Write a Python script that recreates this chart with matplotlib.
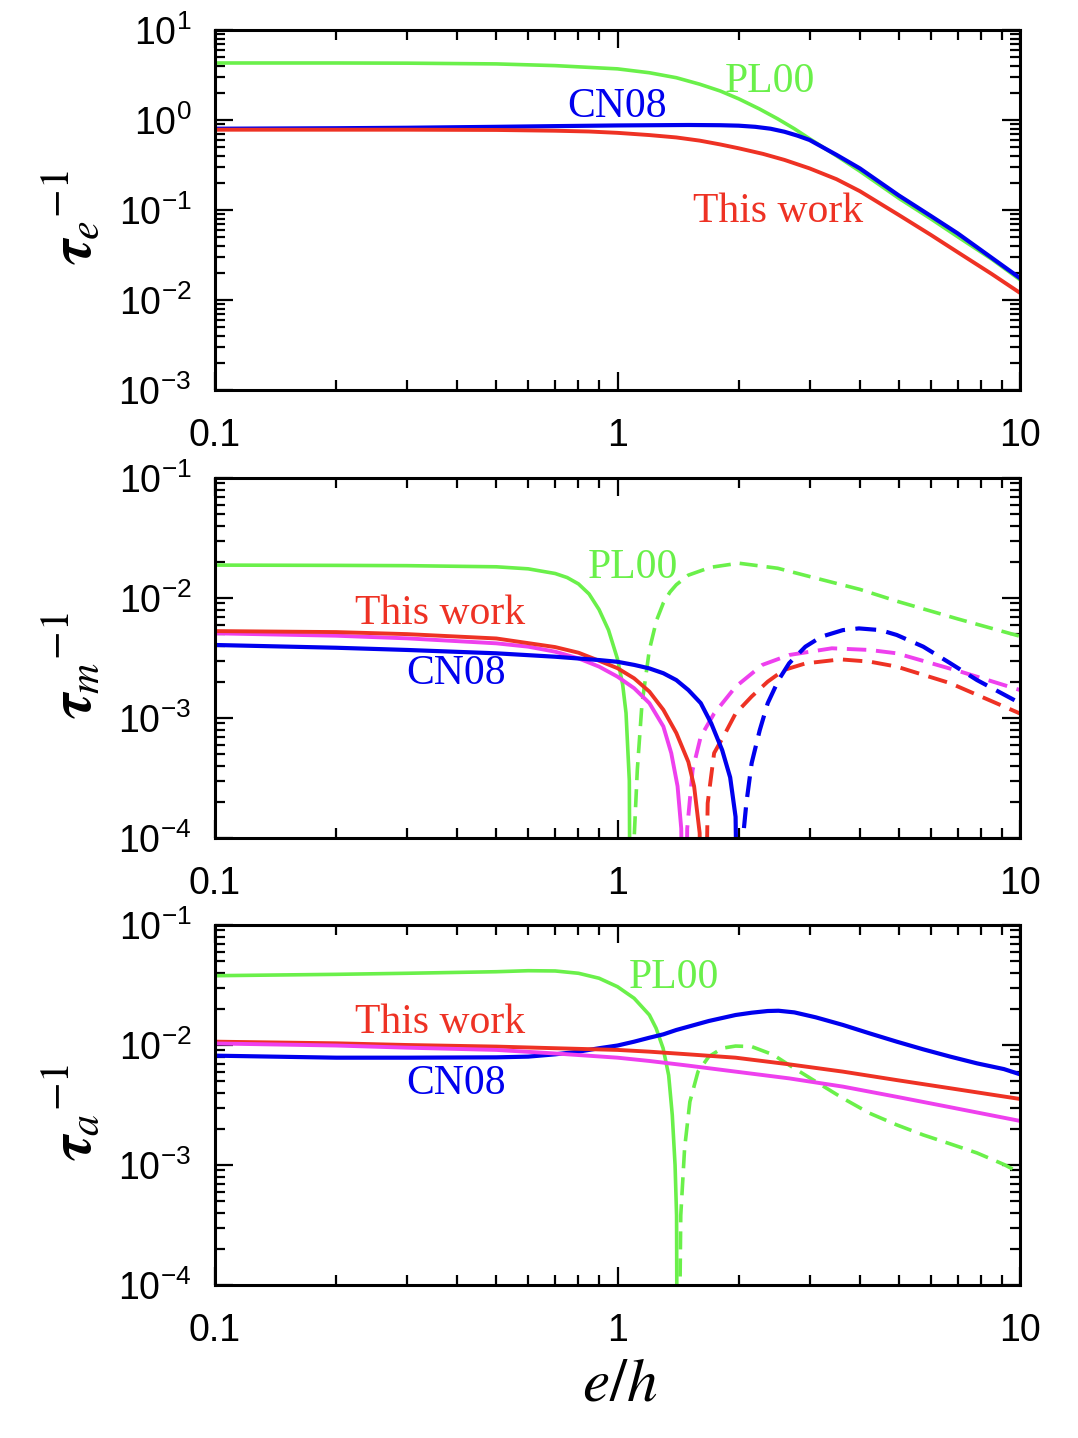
import numpy as np
import matplotlib
matplotlib.use("Agg")
import matplotlib.pyplot as plt
from matplotlib.ticker import LogLocator, FuncFormatter, NullFormatter

plt.rcParams['font.family'] = ['Liberation Sans', 'DejaVu Sans']
plt.rcParams['mathtext.fontset'] = 'custom'
plt.rcParams['mathtext.rm'] = 'Liberation Sans'
plt.rcParams['mathtext.it'] = 'Liberation Sans:italic'
plt.rcParams['mathtext.bf'] = 'Liberation Sans:bold'

# ---------------- data ----------------
# panel 1: tau_e^-1
e_pl_x = [0.1, 0.2, 0.3, 0.5, 0.7, 1.0, 1.2, 1.4, 1.6, 1.8, 2.0, 2.25, 2.5, 2.75, 3.0, 3.5, 4.0, 5.0, 6.0, 7.0, 8.5, 10.0]
e_pl_y = [4.3, 4.3, 4.28, 4.2, 4.02, 3.7, 3.35, 2.95, 2.5, 2.1, 1.72, 1.33, 1.03, 0.8, 0.62, 0.40, 0.27, 0.135, 0.080, 0.0505, 0.0285, 0.0168]
e_cn_x = [0.1, 0.2, 0.3, 0.5, 0.7, 1.0, 1.5, 1.8, 2.0, 2.2, 2.4, 2.6, 2.8, 3.0, 3.5, 4.0, 5.0, 6.0, 7.0, 8.5, 10.0]
e_cn_y = [0.80, 0.81, 0.82, 0.84, 0.855, 0.87, 0.88, 0.875, 0.865, 0.84, 0.80, 0.74, 0.67, 0.60, 0.41, 0.29, 0.145, 0.086, 0.055, 0.0295, 0.0175]
e_tw_x = [0.1, 0.3, 0.5, 0.7, 0.85, 1.0, 1.2, 1.4, 1.6, 1.8, 2.0, 2.3, 2.6, 3.0, 3.5, 4.0, 5.0, 6.0, 7.0, 8.5, 10.0]
e_tw_y = [0.78, 0.78, 0.775, 0.76, 0.745, 0.72, 0.68, 0.64, 0.59, 0.535, 0.485, 0.42, 0.36, 0.29, 0.22, 0.162, 0.088, 0.053, 0.034, 0.0195, 0.012]

# panel 2: tau_m^-1 (solid: positive, dashed: negative part, |value|)
m_pl_x = [0.1, 0.2, 0.3, 0.5, 0.6, 0.7, 0.75, 0.8, 0.85, 0.9, 0.95, 1.0, 1.03, 1.05, 1.07, 1.078]
m_pl_y = [0.0188, 0.0187, 0.0186, 0.0182, 0.0175, 0.0160, 0.0148, 0.0131, 0.0108, 0.0080, 0.0054, 0.0031, 0.0019, 0.0011, 0.0003, 1e-6]
m_pl_neg_x = [1.078, 1.10, 1.12, 1.15, 1.2, 1.25, 1.3, 1.35, 1.4, 1.5, 1.7, 2.0, 2.5, 3.0, 4.0, 5.0, 7.0, 10.0]
m_pl_neg_y = [1e-6, 0.0001, 0.00037, 0.0013, 0.0037, 0.0065, 0.0091, 0.0112, 0.0129, 0.0155, 0.018, 0.0195, 0.0177, 0.0151, 0.0118, 0.0093, 0.0067, 0.0048]
m_tw_x = [0.1, 0.2, 0.3, 0.5, 0.7, 0.8, 0.9, 1.0, 1.1, 1.2, 1.3, 1.4, 1.5, 1.55, 1.6, 1.635]
m_tw_y = [0.0053, 0.0052, 0.0050, 0.0046, 0.0039, 0.0035, 0.0030, 0.0026, 0.00214, 0.00166, 0.00117, 0.00075, 0.00043, 0.00027, 0.00011, 1e-6]
m_tw_neg_x = [1.635, 1.675, 1.738, 1.849, 1.965, 2.154, 2.362, 2.59, 2.93, 3.58, 4.23, 4.94, 6.71, 10.0]
m_tw_neg_y = [1e-6, 0.000195, 0.00051, 0.00074, 0.00109, 0.00151, 0.00201, 0.00251, 0.00285, 0.00308, 0.00295, 0.00268, 0.00195, 0.00109]
m_mg_x = [0.1, 0.2, 0.3, 0.5, 0.6, 0.7, 0.8, 0.9, 1.0, 1.1, 1.2, 1.3, 1.36, 1.41, 1.44, 1.465]
m_mg_y = [0.00508, 0.00485, 0.00461, 0.00419, 0.00393, 0.00357, 0.00314, 0.00268, 0.00221, 0.00177, 0.00133, 0.00085, 0.00051, 0.00027, 0.00012, 1e-6]
m_mg_neg_x = [1.465, 1.49, 1.537, 1.61, 1.738, 1.965, 2.29, 2.67, 3.41, 4.23, 4.94, 7.13, 10.0]
m_mg_neg_y = [1e-6, 0.00012, 0.00037, 0.0007, 0.00109, 0.00182, 0.00277, 0.00335, 0.00381, 0.00369, 0.00346, 0.00243, 0.00171]
m_cn_x = [0.1, 0.2, 0.3, 0.5, 0.7, 0.9, 1.0, 1.1, 1.2, 1.3, 1.4, 1.5, 1.61, 1.71, 1.82, 1.905, 1.965, 2.01]
m_cn_y = [0.00406, 0.00385, 0.00369, 0.00346, 0.00324, 0.00304, 0.00294, 0.00277, 0.00259, 0.00236, 0.00207, 0.00171, 0.00133, 0.0009, 0.00054, 0.00032, 0.00015, 1e-6]
m_cn_neg_x = [2.01, 2.05, 2.09, 2.154, 2.256, 2.362, 2.512, 2.67, 2.93, 3.21, 3.63, 3.98, 4.5, 4.94, 5.75, 6.71, 7.82, 10.0]
m_cn_neg_y = [1e-6, 0.0001, 0.000195, 0.00042, 0.00079, 0.00133, 0.00207, 0.00286, 0.00393, 0.00476, 0.0054, 0.00558, 0.0054, 0.00492, 0.00393, 0.00286, 0.00207, 0.00133]

# panel 3: tau_a^-1
a_pl_x = [0.1, 0.2, 0.3, 0.5, 0.6, 0.7, 0.8, 0.9, 1.0, 1.1, 1.2, 1.247, 1.298, 1.34, 1.368, 1.39, 1.402, 1.41]
a_pl_y = [0.0378, 0.0388, 0.0396, 0.0408, 0.0416, 0.0414, 0.0396, 0.036, 0.0306, 0.0245, 0.0178, 0.0138, 0.0094, 0.0056, 0.00261, 0.001, 0.00038, 1e-6]
a_pl_neg_x = [1.41, 1.436, 1.468, 1.513, 1.585, 1.686, 1.82, 1.965, 2.154, 2.436, 2.67, 3.11, 3.63, 4.23, 4.94, 5.75, 6.71, 7.82, 9.12, 10.0]
a_pl_neg_y = [1e-6, 0.00038, 0.00138, 0.00337, 0.006, 0.008, 0.0094, 0.0098, 0.0097, 0.0083, 0.0068, 0.00495, 0.0036, 0.0027, 0.00216, 0.00178, 0.00150, 0.00126, 0.00101, 0.00086]
a_tw_x = [0.1, 0.2, 0.3, 0.5, 0.7, 1.0, 1.2, 1.5, 1.965, 2.67, 3.63, 4.94, 6.71, 10.0]
a_tw_y = [0.01066, 0.01033, 0.0100, 0.0097, 0.0094, 0.0091, 0.0088, 0.00836, 0.00784, 0.0069, 0.0060, 0.0051, 0.00436, 0.00355]
a_mg_x = [0.1, 0.2, 0.3, 0.5, 0.7, 1.0, 1.2, 1.5, 1.965, 2.67, 3.63, 4.94, 6.71, 10.0]
a_mg_y = [0.0103, 0.0099, 0.0095, 0.0091, 0.0085, 0.00784, 0.00736, 0.00673, 0.0060, 0.00527, 0.0045, 0.0037, 0.00303, 0.00233]
a_cn_x = [0.1, 0.2, 0.3, 0.5, 0.6, 0.7, 0.8, 0.9, 1.0, 1.1, 1.2, 1.3, 1.4, 1.5, 1.686, 1.965, 2.154, 2.362, 2.512, 2.75, 3.11, 3.63, 4.23, 4.94, 5.75, 6.71, 7.82, 9.12, 10.0]
a_cn_y = [0.00815, 0.00784, 0.00784, 0.00789, 0.0080, 0.00836, 0.0088, 0.0094, 0.0099, 0.01066, 0.0115, 0.01227, 0.01334, 0.01422, 0.01585, 0.01778, 0.01858, 0.0192, 0.0193, 0.0187, 0.0170, 0.0147, 0.0125, 0.01066, 0.0092, 0.0080, 0.00703, 0.0063, 0.0057]

x_ticks = [0.1, 1, 10]
x_ticklabels = ['0.1', '1', '10']

GREEN = '#6AF04A'
BLUE = '#0000EE'
RED = '#EE3224'
MAGENTA = '#EE40EE'

# ---------------- figure ----------------
fig = plt.figure(figsize=(10.78, 14.38), dpi=100)
L, W = 215/1078, 805/1078
H = 360/1438
axes = [fig.add_axes([L, 1 - 390/1438, W, H]),
        fig.add_axes([L, 1 - 838/1438, W, H]),
        fig.add_axes([L, 1 - 1285/1438, W, H])]
ylims = [(1e-3, 1e1), (1e-4, 1e-1), (1e-4, 1e-1)]
ylabels = [r'$\boldsymbol{\tau}_{e}{}^{-1}$', r'$\boldsymbol{\tau}_{m}{}^{-1}$', r'$\boldsymbol{\tau}_{a}{}^{-1}$']

def yfmt(v, pos):
    k = int(round(np.log10(v)))
    return r'$\mathregular{10^{%d}}$' % k

for ax, yl, lab in zip(axes, ylims, ylabels):
    ax.set_xscale('log')
    ax.set_yscale('log')
    ax.set_xlim(0.1, 10)
    ax.set_ylim(*yl)
    ax.set_xticks(x_ticks)
    ax.set_xticklabels(x_ticklabels)
    ax.xaxis.set_minor_locator(LogLocator(base=10, subs=np.arange(2, 10)))
    ax.xaxis.set_minor_formatter(NullFormatter())
    ax.yaxis.set_major_locator(LogLocator(base=10, numticks=20))
    ax.yaxis.set_minor_locator(LogLocator(base=10, subs=np.arange(2, 10), numticks=20))
    ax.yaxis.set_major_formatter(FuncFormatter(yfmt))
    ax.yaxis.set_minor_formatter(NullFormatter())
    ax.tick_params(which='both', direction='in', top=True, right=True, width=1.6)
    ax.tick_params(which='major', length=13, labelsize=27)
    ax.tick_params(which='minor', length=7)
    ax.tick_params(axis='x', which='major', pad=20)
    ax.tick_params(axis='y', which='major', pad=17)
    for s in ax.spines.values():
        s.set_linewidth(2.2)
    ax.text(-0.178, 0.48, lab, transform=ax.transAxes, rotation=90,
            ha='center', va='center', fontsize=43, math_fontfamily='stix')

dash = (0, (5, 2.5))
serif = ['Liberation Serif', 'DejaVu Serif']
LG, LB, LR, LM = 2.6, 3.0, 2.8, 2.8

# panel 1
ax = axes[0]
ax.plot(e_pl_x, e_pl_y, color=GREEN, lw=LG)
ax.plot(e_cn_x, e_cn_y, color=BLUE, lw=LB)
ax.plot(e_tw_x, e_tw_y, color=RED, lw=LR)
ax.text(2.39, 2.64, 'PL00', color=GREEN, fontsize=30, family=serif, ha='center', va='center')
ax.text(1.0, 1.39, 'CN08', color=BLUE, fontsize=30, family=serif, ha='center', va='center')
ax.text(2.5, 0.095, 'This work', color=RED, fontsize=30, family=serif, ha='center', va='center')

# panel 2
ax = axes[1]
ax.plot(m_pl_x, m_pl_y, color=GREEN, lw=LG)
ax.plot(m_pl_neg_x, m_pl_neg_y, color=GREEN, lw=LG, ls=dash)
ax.plot(m_mg_x, m_mg_y, color=MAGENTA, lw=LM)
ax.plot(m_mg_neg_x, m_mg_neg_y, color=MAGENTA, lw=LM, ls=dash)
ax.plot(m_tw_x, m_tw_y, color=RED, lw=LR)
ax.plot(m_tw_neg_x, m_tw_neg_y, color=RED, lw=LR, ls=dash)
ax.plot(m_cn_x, m_cn_y, color=BLUE, lw=LB)
ax.plot(m_cn_neg_x, m_cn_neg_y, color=BLUE, lw=LB, ls=dash)
ax.text(1.09, 0.0178, 'PL00', color=GREEN, fontsize=30, family=serif, ha='center', va='center')
ax.text(0.362, 0.00736, 'This work', color=RED, fontsize=30, family=serif, ha='center', va='center')
ax.text(0.397, 0.00233, 'CN08', color=BLUE, fontsize=30, family=serif, ha='center', va='center')

# panel 3
ax = axes[2]
ax.plot(a_pl_x, a_pl_y, color=GREEN, lw=LG)
ax.plot(a_pl_neg_x, a_pl_neg_y, color=GREEN, lw=LG, ls=dash)
ax.plot(a_cn_x, a_cn_y, color=BLUE, lw=LB)
ax.plot(a_tw_x, a_tw_y, color=RED, lw=LR)
ax.plot(a_mg_x, a_mg_y, color=MAGENTA, lw=LM)
ax.text(1.38, 0.0361, 'PL00', color=GREEN, fontsize=30, family=serif, ha='center', va='center')
ax.text(0.362, 0.0153, 'This work', color=RED, fontsize=30, family=serif, ha='center', va='center')
ax.text(0.397, 0.00473, 'CN08', color=BLUE, fontsize=30, family=serif, ha='center', va='center')

fig.text(620/1078, 1 - 1385/1438, r'$e/h$', fontsize=44, math_fontfamily='stix',
         ha='center', va='center')

fig.savefig('out.png', dpi=100)
